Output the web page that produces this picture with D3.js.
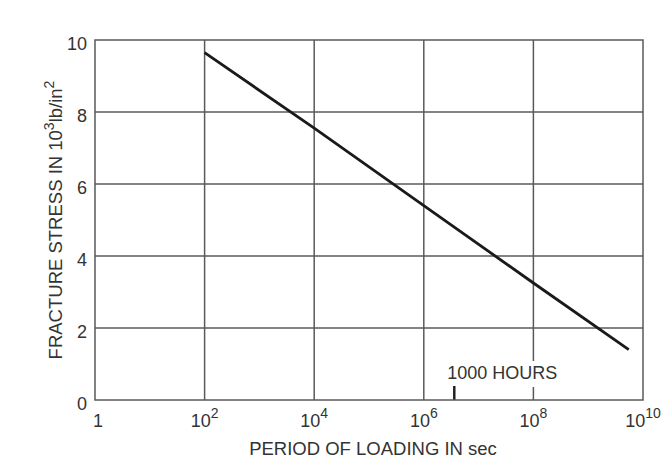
<!DOCTYPE html>
<html>
<head>
<meta charset="utf-8">
<script src="https://cdn.jsdelivr.net/npm/d3@7"></script>
<style>
  body { margin: 0; background: #fff; }
  text { font-family: "Liberation Sans", Arial, sans-serif; fill: #333; }
</style>
</head>
<body>
<script>
// period of loading (sec) vs fracture stress (10^3 lb/in^2)
const periods = [1e2, 1e4, 1e6, 1e8, 5.5e9];
const stress = [9.65, 7.55, 5.4, 3.25, 1.4];
const xTickExps = [0, 2, 4, 6, 8, 10];
const yTicks = [0, 2, 4, 6, 8, 10];
const markerSec = 3.6e6; // 1000 hours
const markerLabel = "1000 HOURS";

const svgWidth = 668, svgHeight = 459;
const margin = { top: 40, right: 25, bottom: 59, left: 95 };
const width = svgWidth - margin.left - margin.right;
const height = svgHeight - margin.top - margin.bottom;

const svg = d3.select("body").append("svg")
  .attr("width", svgWidth)
  .attr("height", svgHeight);

const g = svg.append("g")
  .attr("transform", `translate(${margin.left},${margin.top})`);

const x = d3.scaleLog().domain([1, 1e10]).range([0, width]);
const y = d3.scaleLinear().domain([0, 10]).range([height, 0]);

const gridColor = "#5a5a5a";

// grid
g.selectAll(".vgrid")
  .data(xTickExps.slice(1, -1))
  .enter().append("line")
  .attr("x1", d => x(Math.pow(10, d))).attr("x2", d => x(Math.pow(10, d)))
  .attr("y1", 0).attr("y2", height)
  .attr("stroke", gridColor).attr("stroke-width", 1.5);

g.selectAll(".hgrid")
  .data(yTicks.slice(1, -1))
  .enter().append("line")
  .attr("x1", 0).attr("x2", width)
  .attr("y1", d => y(d)).attr("y2", d => y(d))
  .attr("stroke", gridColor).attr("stroke-width", 1.5);

// 1000 hours marker
const mx = x(markerSec);
const lab = g.append("text")
  .attr("x", mx - 7).attr("y", height - 21)
  .attr("font-size", 18)
  .text(markerLabel);
const bb = lab.node().getBBox();
g.insert("rect", "text")
  .attr("x", bb.x - 1).attr("y", bb.y - 2)
  .attr("width", bb.width + 2).attr("height", bb.height + 6)
  .attr("fill", "#fff");
g.append("line")
  .attr("x1", mx).attr("x2", mx)
  .attr("y1", height - 14).attr("y2", height)
  .attr("stroke", "#222").attr("stroke-width", 2.5);

// frame
g.append("rect")
  .attr("x", 0).attr("y", 0).attr("width", width).attr("height", height)
  .attr("fill", "none").attr("stroke", gridColor).attr("stroke-width", 1.5);

// data line
const line = d3.line()
  .x((d, i) => x(periods[i]))
  .y(d => y(d));
g.append("path")
  .datum(stress)
  .attr("d", line)
  .attr("fill", "none")
  .attr("stroke", "#1a1a1a")
  .attr("stroke-width", 2.8);

// x tick labels
const xl = g.selectAll(".xlab")
  .data(xTickExps)
  .enter().append("text")
  .attr("x", d => x(Math.pow(10, d)))
  .attr("y", height + 27)
  .attr("text-anchor", "middle")
  .attr("font-size", 18);
xl.each(function(d) {
  const t = d3.select(this);
  if (d === 0) { t.attr("dx", 3).text("1"); return; }
  t.append("tspan").text("10");
  t.append("tspan").attr("dy", -9).attr("font-size", 14).text(d);
});

// y tick labels
g.selectAll(".ylab")
  .data(yTicks)
  .enter().append("text")
  .attr("x", -8)
  .attr("y", d => y(d) + 10)
  .attr("text-anchor", "end")
  .attr("font-size", 18)
  .text(d => d);

// axis titles
svg.append("text")
  .attr("x", 373)
  .attr("y", 455)
  .attr("text-anchor", "middle")
  .attr("font-size", 18.5)
  .text("PERIOD OF LOADING IN sec");

const yt = svg.append("text")
  .attr("transform", `translate(62,220) rotate(-90)`)
  .attr("text-anchor", "middle")
  .attr("font-size", 18.5);
yt.append("tspan").text("FRACTURE STRESS IN 10");
yt.append("tspan").attr("dy", -8).attr("font-size", 14).text("3");
yt.append("tspan").attr("dy", 8).text("lb/in");
yt.append("tspan").attr("dy", -8).attr("font-size", 14).text("2");
</script>
</body>
</html>
